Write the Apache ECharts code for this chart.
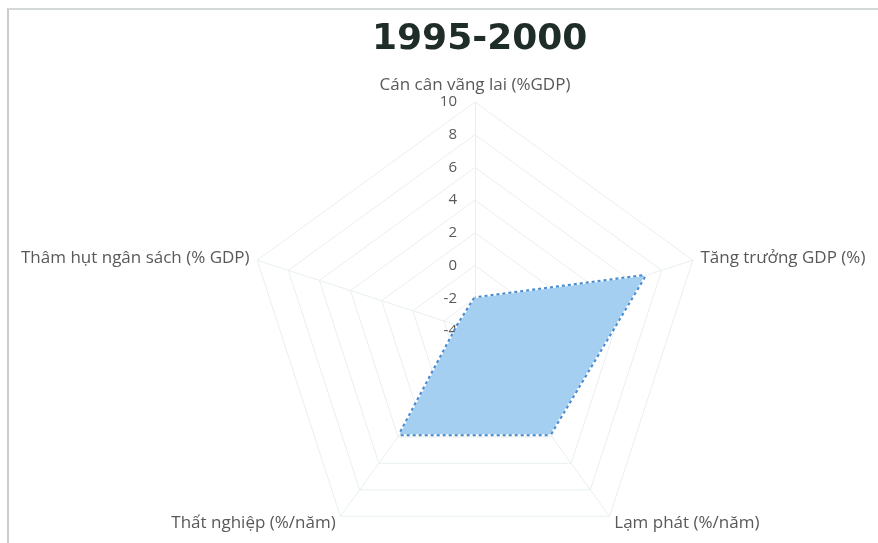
<!DOCTYPE html>
<html>
<head>
<meta charset="utf-8">
<script src="https://cdn.jsdelivr.net/npm/echarts@6/dist/echarts.min.js"></script>
<style>
  html, body { margin: 0; padding: 0; background: #ffffff; }
  #frame { position: absolute; left: 7px; top: 8px; width: 880px; height: 540px;
           border-top: 2px solid #d4d8d8; border-left: 2px solid #c8cccc; box-sizing: border-box; }
  #chart { width: 878px; height: 543px; position: absolute; left: 0; top: 0; }
</style>
</head>
<body>
<div id="frame"></div>
<div id="chart"></div>
<script>
// Macro indicators, period average 1995-2000
const title = '1995-2000';
const indicators = [
  'Cán cân vãng lai (%GDP)',
  'Thâm hụt ngân sách (% GDP)',
  'Thất nghiệp (%/năm)',
  'Lạm phát (%/năm)',
  'Tăng trưởng GDP (%)'
];
const values = [-2, -2.9, 3.8, 3.8, 6.9];
const axisMin = -4;
const axisMax = 10;
const axisStep = 2;

const chart = echarts.init(document.getElementById('chart'), null, { renderer: 'canvas' });

// dotted outline of the filled area
const outline = { color: '#4a8bcf', width: 4, type: [3, 3], cap: 'butt', opacity: 1 };

chart.setOption({
  animation: false,
  backgroundColor: 'transparent',
  title: {
    text: title,
    left: 367,
    top: 17,
    textStyle: { fontFamily: 'DejaVu Sans', fontWeight: 'bold', fontSize: 36, color: '#1f2d28' }
  },
  radar: {
    center: [475, 331],
    radius: 229,
    shape: 'polygon',
    splitNumber: (axisMax - axisMin) / axisStep,
    nameGap: 8,
    axisName: { color: '#595959', fontFamily: 'Open Sans', fontSize: 17 },
    axisLine: { lineStyle: { color: '#e8efef', width: 1 } },
    splitLine: { lineStyle: { color: '#e8efef', width: 1 } },
    splitArea: { show: false },
    axisLabel: { show: true, showMinLabel: true, color: '#595959', fontFamily: 'Open Sans', fontSize: 15, margin: 18 },
    indicator: indicators.map((name, i) => ({
      name: name,
      min: axisMin,
      max: axisMax,
      axisLabel: { show: i === 0 }
    }))
  },
  series: [{
    type: 'radar',
    symbol: 'none',
    lineStyle: outline,
    areaStyle: { color: '#a5cff1', opacity: 1 },
    data: [{ value: values, name: title, lineStyle: outline }]
  }]
});
</script>
</body>
</html>
